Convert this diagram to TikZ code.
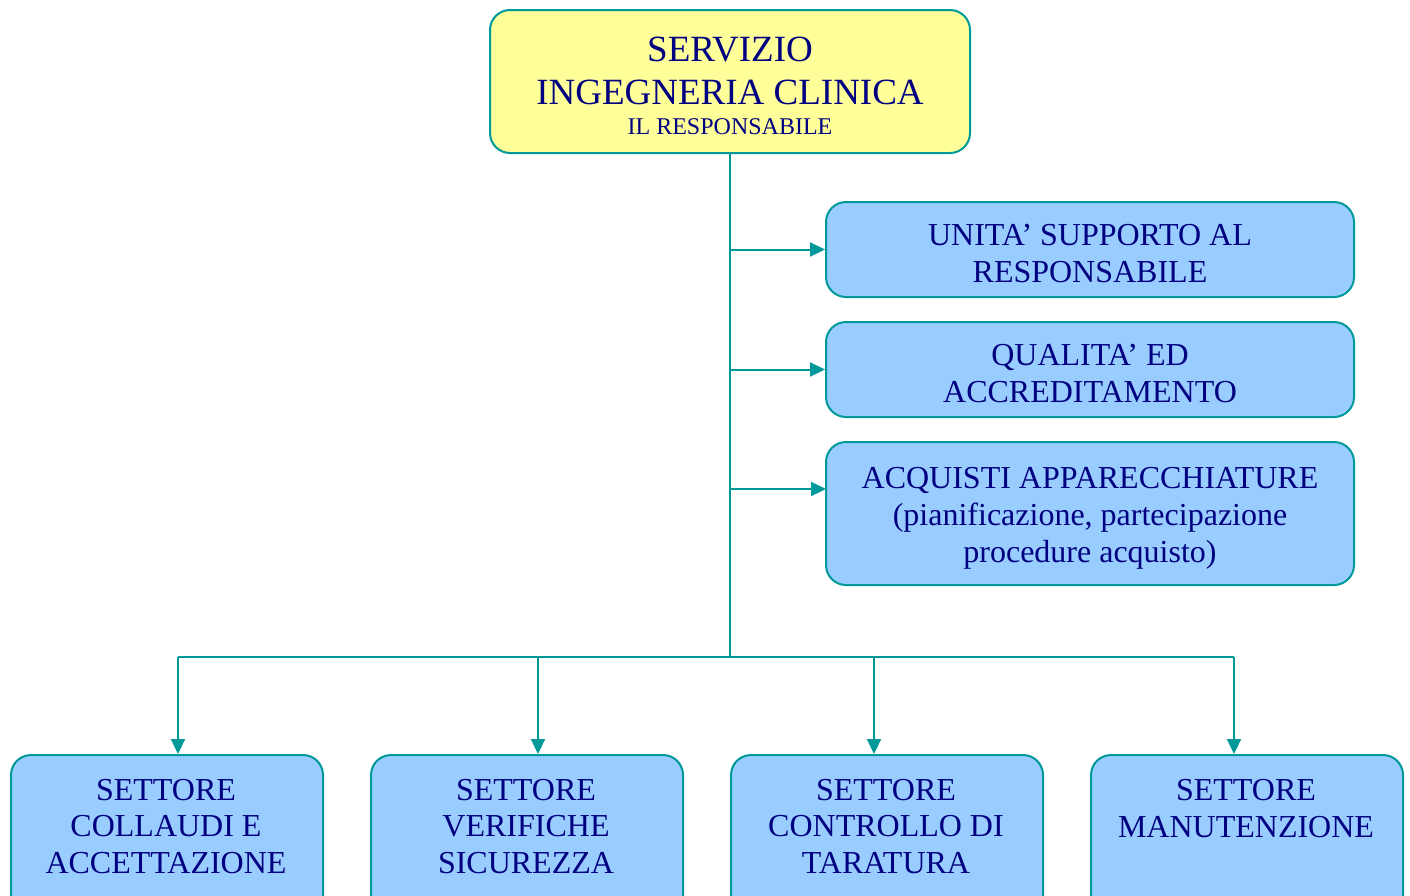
\documentclass[tikz,border=0pt]{standalone}
\usepackage{fontspec}
\setmainfont{Liberation Serif}
\usetikzlibrary{arrows.meta,calc}
\definecolor{edge}{RGB}{0,153,153}
\definecolor{headfill}{RGB}{255,255,153}
\definecolor{unitfill}{RGB}{153,204,255}
\definecolor{ink}{RGB}{0,0,128}
\tikzset{
  box/.style={draw=edge, line width=2pt, rounded corners=20pt, fill=unitfill, inner sep=0pt},
  headbox/.style={box, fill=headfill},
  lbl/.style={text=ink, align=center, inner sep=0pt, font=\fontsize{32}{36.5}\selectfont},
  link/.style={draw=edge, line width=2pt},
  arrowlink/.style={link, -{Triangle[length=15pt,width=14pt]}}
}
\begin{document}
\begin{tikzpicture}[x=1pt,y=-1pt]
\useasboundingbox (0,0) rectangle (1410,895);

% head office
\node[headbox, minimum width=480pt, minimum height=143pt] (head) at (730,81.5) {};
\node[lbl, font=\fontsize{37}{43}\selectfont] (headtxt) at (730,70.5) {SERVIZIO\\INGEGNERIA CLINICA};
\node[lbl, font=\fontsize{24}{28}\selectfont] (headsub) at (730,127) {IL RESPONSABILE};

% staff units
\node[box, minimum width=528pt, minimum height=95pt] (u1) at (1090,249.5) {};
\node[lbl] (u1txt) at (1090,253.5) {UNITA’ SUPPORTO AL\\RESPONSABILE};
\node[box, minimum width=528pt, minimum height=95pt] (u2) at (1090,369.5) {};
\node[lbl] (u2txt) at (1090,373.5) {QUALITA’ ED\\ACCREDITAMENTO};
\node[box, minimum width=528pt, minimum height=143pt] (u3) at (1090,513.5) {};
\node[lbl, font=\fontsize{32}{37}\selectfont] (u3txt) at (1090,518.5) {ACQUISTI APPARECCHIATURE\\(pianificazione, partecipazione\\procedure acquisto)};

% sectors
\node[box, minimum width=312pt, minimum height=180pt, anchor=north west] (s1) at (10,754) {};
\node[box, minimum width=312pt, minimum height=180pt, anchor=north west] (s2) at (370,754) {};
\node[box, minimum width=312pt, minimum height=180pt, anchor=north west] (s3) at (730,754) {};
\node[box, minimum width=312pt, minimum height=180pt, anchor=north west] (s4) at (1090,754) {};
\node[lbl] (s1txt) at (166,826.5) {SETTORE\\COLLAUDI E\\ACCETTAZIONE};
\node[lbl] (s2txt) at (526,826.5) {SETTORE\\VERIFICHE\\SICUREZZA};
\node[lbl] (s3txt) at (886,826.5) {SETTORE\\CONTROLLO DI\\TARATURA};
\node[lbl] (s4txt) at (1246,808.5) {SETTORE\\MANUTENZIONE};

% connectors
\coordinate (bus) at (730,657);
\coordinate (busw) at (178,657);
\coordinate (buse) at (1234,657);
\coordinate (u3in) at (826,489);
\draw[link] (head.south) -- (bus);
\draw[arrowlink] (head.south |- u1.west) -- (u1.west);
\draw[arrowlink] (head.south |- u2.west) -- (u2.west);
\draw[arrowlink] (head.south |- u3in) -- (u3in);
\draw[link] (busw) -- (buse);
\draw[arrowlink] (busw) -- (busw |- s1.north);
\draw[arrowlink] (538,657) -- (538,754);
\draw[arrowlink] (874,657) -- (874,754);
\draw[arrowlink] (buse) -- (buse |- s4.north);
\end{tikzpicture}
\end{document}
